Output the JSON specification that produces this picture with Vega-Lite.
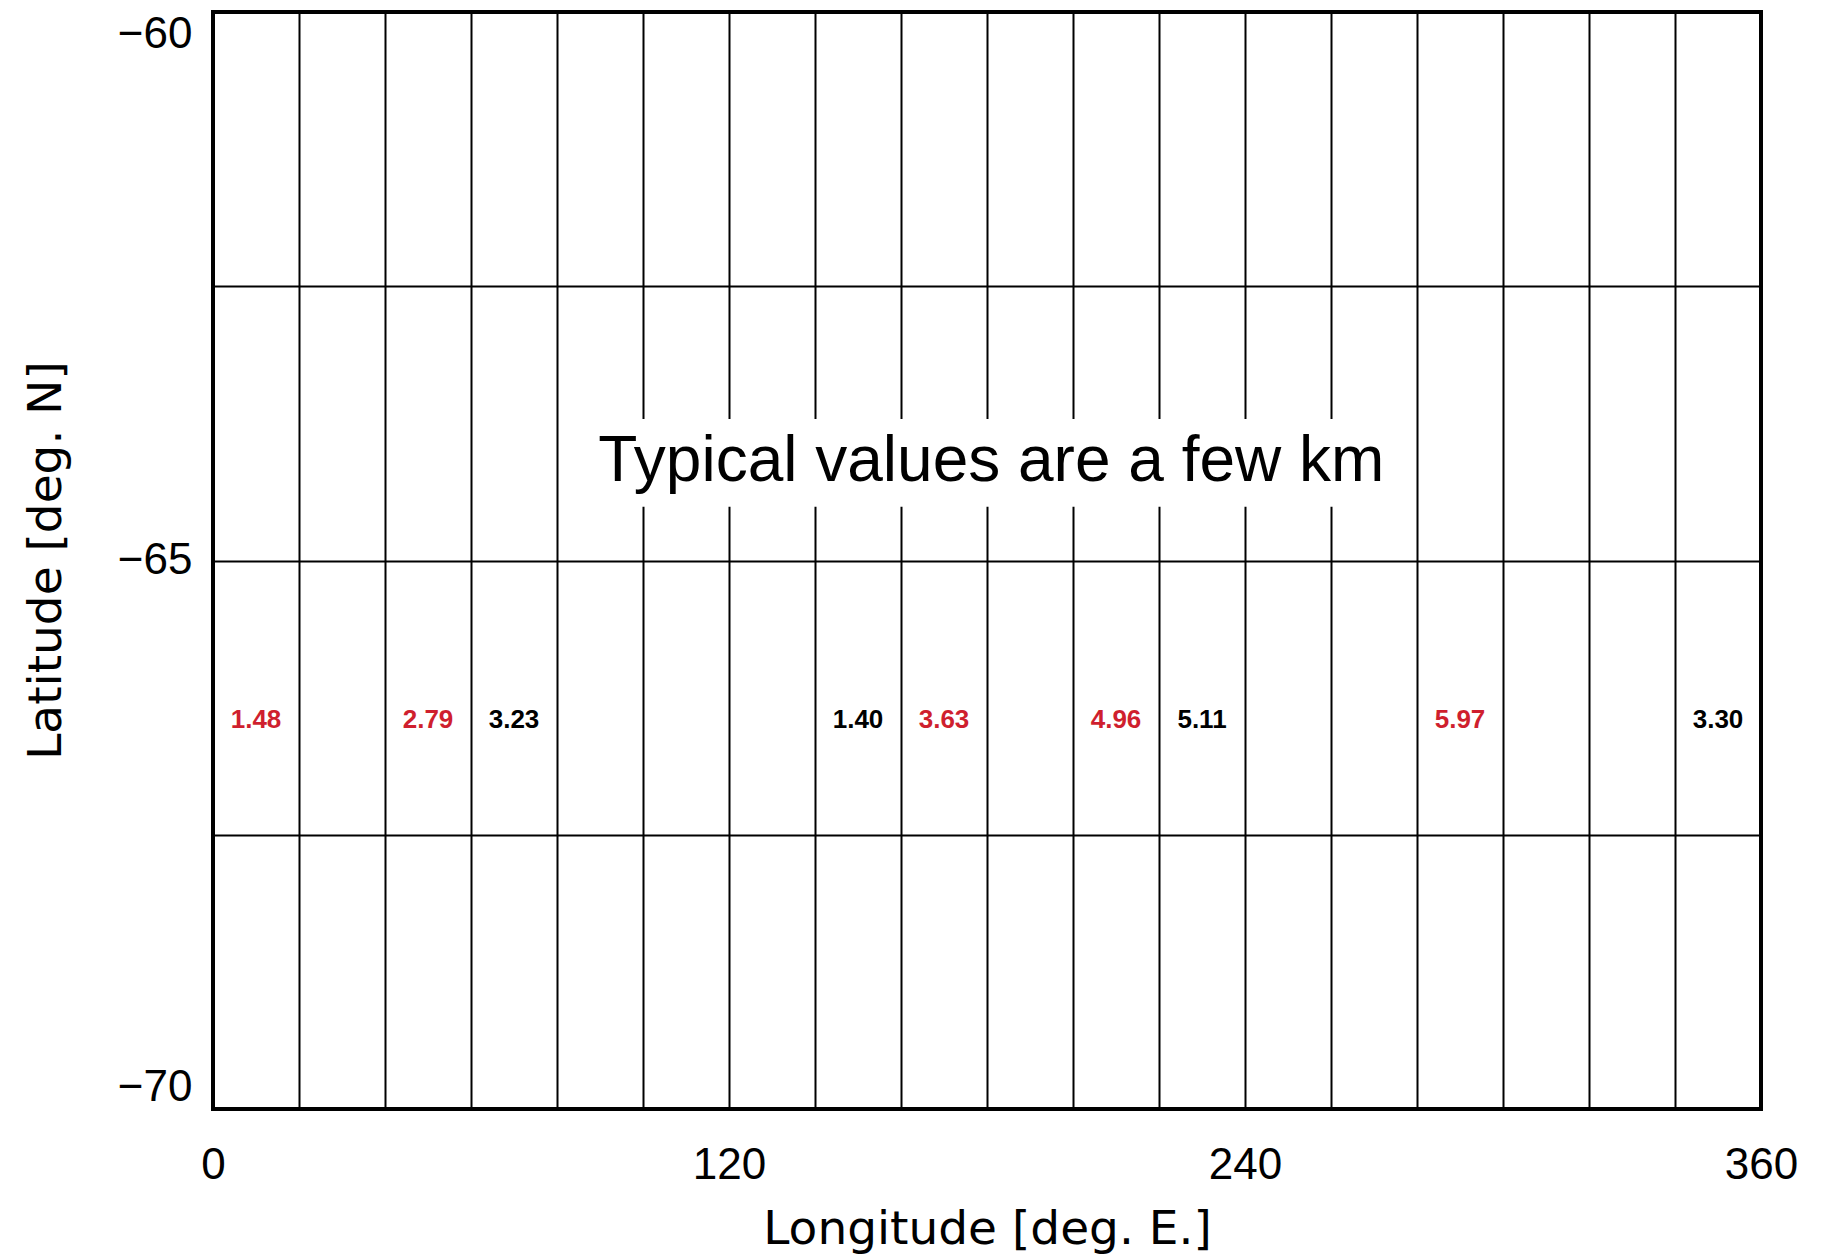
{
  "$schema": "https://vega.github.io/schema/vega-lite/v6.json",
  "width": 1548,
  "height": 1097,
  "autosize": "none",
  "padding": {"left": 213, "top": 12, "right": 64, "bottom": 149},
  "background": "white",
  "config": {
    "view": {"stroke": "black", "strokeWidth": 4},
    "axis": {
      "grid": true,
      "gridColor": "black",
      "gridWidth": 2,
      "gridOpacity": 1,
      "ticks": false,
      "domain": false,
      "labelFont": "Liberation Sans",
      "labelFontSize": 44,
      "labelColor": "black",
      "labelOverlap": false,
      "titleFont": "DejaVu Sans",
      "titleFontSize": 47,
      "titleFontWeight": "normal",
      "titleColor": "black"
    }
  },
  "datasets": {
    "cells": [
      {"lon": 10, "lat": -66.45, "value": 1.48, "group": "red"},
      {"lon": 50, "lat": -66.45, "value": 2.79, "group": "red"},
      {"lon": 70, "lat": -66.45, "value": 3.23, "group": "black"},
      {"lon": 150, "lat": -66.45, "value": 1.40, "group": "black"},
      {"lon": 170, "lat": -66.45, "value": 3.63, "group": "red"},
      {"lon": 210, "lat": -66.45, "value": 4.96, "group": "red"},
      {"lon": 230, "lat": -66.45, "value": 5.11, "group": "black"},
      {"lon": 290, "lat": -66.45, "value": 5.97, "group": "red"},
      {"lon": 350, "lat": -66.45, "value": 3.30, "group": "black"}
    ],
    "note": [
      {"text": "Typical values are a few km", "lon": 181, "lat": -64.1, "lon1": 81, "lon2": 279, "lat1": -63.71, "lat2": -64.51}
    ]
  },
  "layer": [
    {
      "data": {"name": "note"},
      "mark": {"type": "rect", "fill": "white", "stroke": null},
      "encoding": {
        "x": {
          "field": "lon1", "type": "quantitative",
          "scale": {"domain": [0, 360], "nice": false, "zero": false},
          "axis": {
            "title": "Longitude [deg. E.]",
            "values": [0, 20, 40, 60, 80, 100, 120, 140, 160, 180, 200, 220, 240, 260, 280, 300, 320, 340, 360],
            "labelExpr": "datum.value % 120 === 0 ? format(datum.value, 'd') : ''",
            "labelPadding": 34,
            "labelFlush": false,
            "titleY": 134,
            "titleBaseline": "alphabetic"
          }
        },
        "x2": {"field": "lon2"},
        "y": {
          "field": "lat1", "type": "quantitative",
          "scale": {"domain": [-70, -60], "nice": false, "zero": false},
          "axis": {
            "title": "Latitude [deg. N]",
            "values": [-70, -67.5, -65, -62.5, -60],
            "labelExpr": "datum.value % 5 === 0 ? format(datum.value, 'd') : ''",
            "labelPadding": 21,
            "labelFlush": true,
            "titleX": -153,
            "titleY": 548,
            "titleBaseline": "alphabetic"
          }
        },
        "y2": {"field": "lat2"}
      }
    },
    {
      "data": {"name": "note"},
      "mark": {"type": "text", "font": "Liberation Sans", "fontSize": 64, "color": "black", "baseline": "middle", "align": "center"},
      "encoding": {
        "x": {"field": "lon", "type": "quantitative", "axis": {"title": "Longitude [deg. E.]"}},
        "y": {"field": "lat", "type": "quantitative", "axis": {"title": "Latitude [deg. N]"}},
        "text": {"field": "text", "type": "nominal"}
      }
    },
    {
      "data": {"name": "cells"},
      "mark": {"type": "text", "font": "Liberation Sans", "fontSize": 26, "fontWeight": "bold", "baseline": "middle", "align": "center"},
      "encoding": {
        "x": {"field": "lon", "type": "quantitative", "axis": {"title": "Longitude [deg. E.]"}},
        "y": {"field": "lat", "type": "quantitative", "axis": {"title": "Latitude [deg. N]"}},
        "text": {"field": "value", "type": "quantitative", "format": ".2f"},
        "color": {
          "field": "group", "type": "nominal",
          "scale": {"domain": ["red", "black"], "range": ["#cf1f2e", "#000000"]},
          "legend": null
        }
      }
    }
  ]
}
